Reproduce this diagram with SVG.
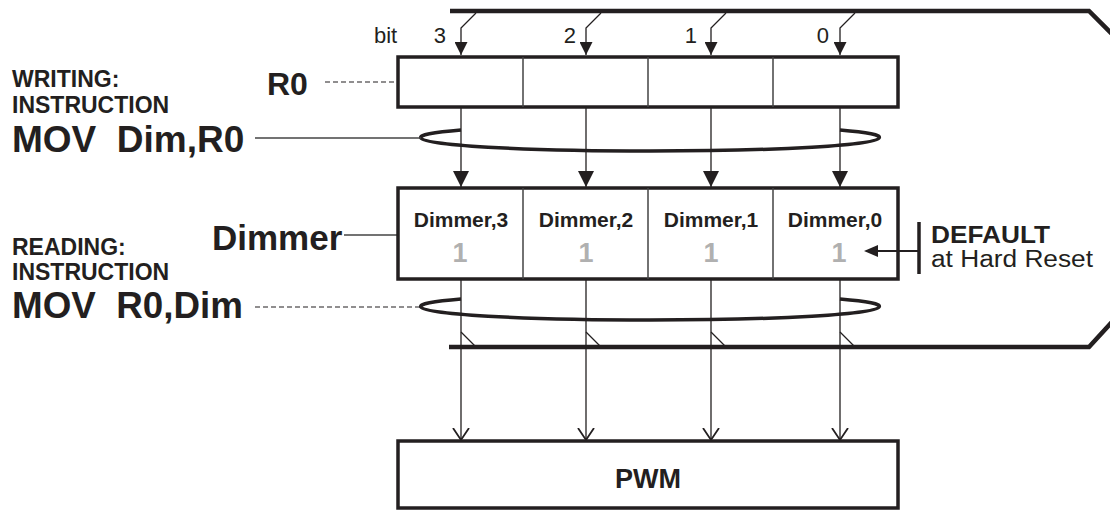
<svg xmlns="http://www.w3.org/2000/svg" width="1110" height="512" viewBox="0 0 1110 512">
<defs>
<style>
.t{font-family:"Liberation Sans",Arial,sans-serif;fill:#231f20}
.b{font-weight:bold}
.box{fill:#fff;stroke:#231f20;stroke-width:3.5}
.div{stroke:#444;stroke-width:1.5;fill:none}
.thin{stroke:#231f20;stroke-width:1.3;fill:none}
.bus{stroke:#231f20;stroke-width:4.5;fill:none;stroke-linejoin:miter}
.ell{stroke:#231f20;stroke-width:3.5;fill:none}
.dash{stroke:#231f20;stroke-width:1.2;stroke-dasharray:5 3;fill:none}
.lead{stroke:#444;stroke-width:1.5;fill:none}
.one{font-family:"Liberation Sans",Arial,sans-serif;font-weight:bold;font-size:27px;fill:#b0b0b0;text-anchor:middle}
</style>
<marker id="fa" viewBox="0 0 16 16" markerWidth="16" markerHeight="16" refX="16" refY="8" orient="auto" markerUnits="userSpaceOnUse">
<path d="M0,0 L16,8 L0,16 Z" fill="#231f20"/>
</marker>
<marker id="fs" viewBox="0 0 13 13" markerWidth="13" markerHeight="13" refX="13" refY="6.5" orient="auto" markerUnits="userSpaceOnUse">
<path d="M0,0 L13,6.5 L0,13 Z" fill="#231f20"/>
</marker>
<marker id="oa" viewBox="0 0 14 18" markerWidth="14" markerHeight="18" refX="12" refY="9" orient="auto" markerUnits="userSpaceOnUse">
<path d="M0,1 L12,9 L0,17" fill="none" stroke="#231f20" stroke-width="1.8"/>
</marker>
</defs>
<rect width="1110" height="512" fill="#fff"/>

<g id="connectors">
<path class="bus" d="M450,11 H1089 L1112,34"/>
<path class="bus" d="M449,347 H1089 L1112,322"/>
<path class="thin" d="M476,13 L461,28 V55" marker-end="url(#fs)"/>
<path class="thin" d="M601,13 L586,28 V55" marker-end="url(#fs)"/>
<path class="thin" d="M726,13 L711,28 V55" marker-end="url(#fs)"/>
<path class="thin" d="M855,13 L840,28 V55" marker-end="url(#fs)"/>
<path class="thin" d="M461,108 V187" marker-end="url(#fa)"/>
<path class="thin" d="M586,108 V187" marker-end="url(#fa)"/>
<path class="thin" d="M711,108 V187" marker-end="url(#fa)"/>
<path class="thin" d="M840,108 V187" marker-end="url(#fa)"/>
<path class="ell" d="M461,130 A229 13 0 0 0 421,138 A229 13 0 0 0 879,138 A229 13 0 0 0 840,130"/>
<path class="thin" d="M461,280 V440" marker-end="url(#oa)"/>
<path class="thin" d="M586,280 V440" marker-end="url(#oa)"/>
<path class="thin" d="M711,280 V440" marker-end="url(#oa)"/>
<path class="thin" d="M840,280 V440" marker-end="url(#oa)"/>
<path class="ell" d="M461,299 A229 13 0 0 0 421,307 A229 13 0 0 0 879,307 A229 13 0 0 0 840,299"/>
<path class="thin" d="M461,332 L475,346"/>
<path class="thin" d="M586,332 L600,346"/>
<path class="thin" d="M711,332 L725,346"/>
<path class="thin" d="M840,332 L854,346"/>
<path class="dash" d="M325,82 H398"/>
<path class="lead" d="M255,138 H421"/>
<path class="lead" d="M344,235 H398"/>
<path class="dash" d="M255,307 H421"/>
</g>

<g id="bits">
<text class="t" x="374" y="43" font-size="22">bit</text>
<text class="t" x="446" y="43" font-size="22" text-anchor="end">3</text>
<text class="t" x="576" y="43" font-size="22" text-anchor="end">2</text>
<text class="t" x="697" y="43" font-size="22" text-anchor="end">1</text>
<text class="t" x="829" y="43" font-size="22" text-anchor="end">0</text>
</g>

<g id="R0">
<rect class="box" x="398" y="57" width="500" height="50"/>
<path class="div" d="M523,57 V107 M648,57 V107 M773,57 V107"/>
</g>

<g id="Dimmer">
<rect class="box" x="398" y="188" width="500" height="91"/>
<path class="div" d="M523,188 V279 M648,188 V279 M773,188 V279"/>
<text class="t b" x="461" y="227" font-size="21" text-anchor="middle">Dimmer,3</text>
<text class="t b" x="586" y="227" font-size="21" text-anchor="middle">Dimmer,2</text>
<text class="t b" x="711" y="227" font-size="21" text-anchor="middle">Dimmer,1</text>
<text class="t b" x="835" y="227" font-size="21" text-anchor="middle">Dimmer,0</text>
<text class="one" x="460" y="262">1</text>
<text class="one" x="586" y="262">1</text>
<text class="one" x="711" y="262">1</text>
<text class="one" x="839" y="262">1</text>
</g>

<g id="PWM">
<rect class="box" x="398" y="441" width="500" height="67"/>
<text class="t b" x="648" y="488" font-size="27" text-anchor="middle">PWM</text>
</g>

<g id="default">
<path d="M919,251 H874" stroke="#231f20" stroke-width="2" fill="none"/>
<path d="M864,251 L878,245 L878,257 Z" fill="#231f20"/>
<path d="M919,222 V274" stroke="#231f20" stroke-width="3.5"/>
<text class="t b" x="931" y="243" font-size="23" textLength="119" lengthAdjust="spacingAndGlyphs">DEFAULT</text>
<text class="t" x="931" y="267" font-size="23" textLength="162" lengthAdjust="spacingAndGlyphs">at Hard Reset</text>
</g>

<g id="writing">
<text class="t b" x="12" y="87" font-size="23">WRITING:</text>
<text class="t b" x="12" y="113" font-size="23">INSTRUCTION</text>
<text class="t b" x="12" y="152" font-size="37" xml:space="preserve">MOV  Dim,R0</text>
<text class="t b" x="267" y="95" font-size="32">R0</text>
</g>

<g id="reading">
<text class="t b" x="12" y="255" font-size="23">READING:</text>
<text class="t b" x="12" y="280" font-size="23">INSTRUCTION</text>
<text class="t b" x="12" y="318" font-size="36" xml:space="preserve" textLength="231" lengthAdjust="spacingAndGlyphs">MOV  R0,Dim</text>
<text class="t b" x="212" y="250" font-size="35">Dimmer</text>
</g>
</svg>
